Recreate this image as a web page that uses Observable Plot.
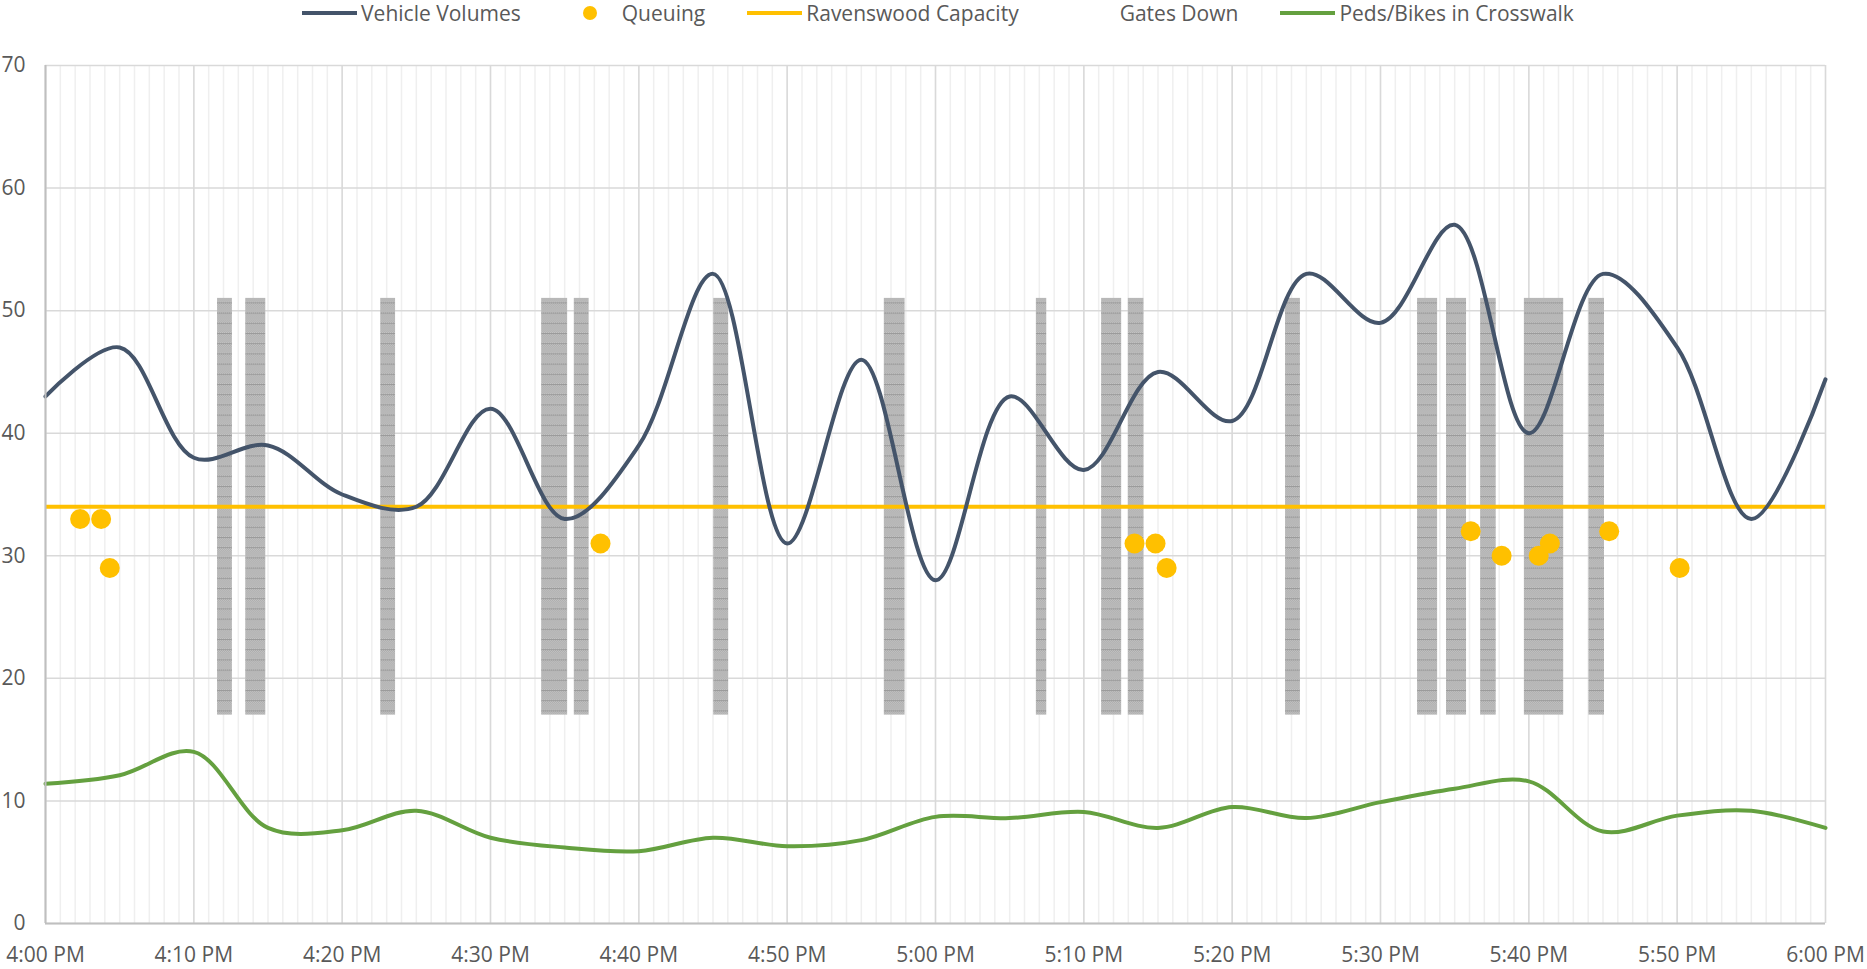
<!DOCTYPE html>
<html><head><meta charset="utf-8">
<script src="https://cdn.jsdelivr.net/npm/d3@7"></script>
<script src="https://cdn.jsdelivr.net/npm/@observablehq/plot@0.6"></script>
<style>
body{margin:0;background:#fff;font-family:"Open Sans",sans-serif;color:#595959;width:1867px;height:969px;overflow:hidden}
#legend{height:26px;display:flex;justify-content:center;align-items:center;font-size:21px;gap:42px;white-space:nowrap;padding-left:9px}
.item{display:flex;align-items:center;gap:4px}
.sw{width:55px;height:26px;display:flex;align-items:center;justify-content:center}
.ln{width:55px;height:4px}
.dot{width:14px;height:14px;border-radius:50%}
</style></head><body>
<div id="legend"></div><div id="chart"></div>
<script>
// ---- data ----
const intervalTimes = ["16:00","16:05","16:10","16:15","16:20","16:25","16:30","16:35","16:40","16:45","16:50","16:55",
  "17:00","17:05","17:10","17:15","17:20","17:25","17:30","17:35","17:40","17:45","17:50","17:55","18:00"];
const vehicleVolumes = [43,47,38,39,35,34,42,33,39,53,31,46,28,43,37,45,41,53,49,57,40,53,47,33,44.4];
const pedsBikes = [11.4,12.1,14,7.8,7.6,9.2,7.0,6.2,5.9,7.0,6.3,6.8,8.7,8.6,9.1,7.8,9.5,8.6,9.9,11.0,11.6,7.5,8.8,9.2,7.8];
const queueTimes = ["16:02:20","16:03:45","16:04:20","16:37:25","17:13:25","17:14:50","17:15:35","17:36:05","17:38:10","17:40:40","17:41:25","17:45:25","17:50:10"];
const queueValues = [33,33,29,31,31,31,29,32,30,30,31,32,29];
const capacity = 34;
const gateStarts = ["16:11:36","16:13:30","16:22:36","16:33:27","16:35:39","16:45:03","16:56:33","17:06:48","17:11:12","17:13:00","17:23:36","17:32:30","17:34:27","17:36:45","17:39:42","17:44:03"];
const gateEnds   = ["16:12:36","16:14:51","16:23:36","16:35:12","16:36:39","16:46:03","16:57:57","17:07:30","17:12:33","17:14:03","17:24:36","17:33:51","17:35:48","17:37:48","17:42:21","17:45:06"];
const gateRange = [17, 51];
const yTicks = [0,10,20,30,40,50,60,70];
const seriesNames = ["Vehicle Volumes","Queuing","Ravenswood Capacity","Gates Down","Peds/Bikes in Crosswalk"];
const colors = {vehicle:"#44546a", queue:"#ffc000", capacity:"#ffc000", peds:"#64a03f"};

// ---- build ----
const parseT = s => { const [h,m,sec] = s.split(":").map(Number); return new Date(2020,0,1,h,m,sec||0); };
const start = parseT("16:00"), end = parseT("18:00");
const series = intervalTimes.map((t,i)=>({t:parseT(t), v:vehicleVolumes[i], p:pedsBikes[i]}));
const queue = queueTimes.map((t,i)=>({t:parseT(t), v:queueValues[i]}));
const gates = gateStarts.map((s,i)=>({a:parseT(s), b:parseT(gateEnds[i]), lo:gateRange[0], hi:gateRange[1]}));
const minuteGrid = d3.timeMinute.range(start, d3.timeMinute.offset(end,1));
const majorGrid = d3.timeMinute.every(10).range(start, d3.timeMinute.offset(end,1));

// legend
const lg = document.getElementById("legend");
const swatches = [
  `<div class="ln" style="background:${colors.vehicle}"></div>`,
  `<div class="dot" style="background:${colors.queue}"></div>`,
  `<div class="ln" style="background:${colors.capacity}"></div>`,
  ``,
  `<div class="ln" style="background:${colors.peds}"></div>`
];
lg.innerHTML = seriesNames.map((n,i)=>`<div class="item"><div class="sw">${swatches[i]}</div><span>${n}</span></div>`).join("");

const chart = Plot.plot({
  width: 1867, height: 943,
  marginTop: 39, marginBottom: 46, marginLeft: 45, marginRight: 42,
  style: {fontFamily:'"Open Sans", sans-serif', fontSize:"21px", color:"#595959", background:"white"},
  x: {type:"time", domain:[start,end]},
  y: {domain:[0,70]},
  marks: [
    Plot.ruleX(minuteGrid, {stroke:"#efefef", strokeWidth:1.5}),
    Plot.ruleX(majorGrid, {stroke:"#d9d9d9", strokeWidth:1.5}),
    Plot.ruleY(yTicks, {stroke:"#d9d9d9", strokeWidth:1.5}),
    Plot.rect(gates, {x1:"a", x2:"b", y1:"lo", y2:"hi", fill:"url(#gatepat)"}),
    Plot.ruleY([capacity], {stroke:colors.capacity, strokeWidth:4}),
    Plot.line(series, {x:"t", y:"v", stroke:colors.vehicle, strokeWidth:4, curve:"catmull-rom"}),
    Plot.line(series, {x:"t", y:"p", stroke:colors.peds, strokeWidth:4, curve:"catmull-rom"}),
    Plot.dot(queue, {x:"t", y:"v", r:10, fill:colors.queue}),
    Plot.ruleY([0], {stroke:"#bfbfbf", strokeWidth:2}),
    Plot.ruleX([start], {stroke:"#bfbfbf", strokeWidth:2}),
    Plot.axisX({ticks: d3.timeMinute.every(10), tickFormat: d3.timeFormat("%-I:%M %p"), tickSize:0, tickPadding:24, label:null}),
    Plot.axisY({ticks: yTicks, tickSize:0, tickPadding:20, label:null})
  ]
});
const svg = chart;
d3.select(svg).insert("defs", ":first-child").html(`
<pattern id="gatepat" patternUnits="userSpaceOnUse" x="0" y="1" width="2" height="10.2">
  <rect width="2" height="10.2" fill="#c4c4c4"/>
  <rect x="0" y="0" width="1" height="1" fill="#acacac"/><rect x="1" y="1" width="1" height="1" fill="#acacac"/>
  <rect x="0" y="2" width="1" height="1" fill="#acacac"/><rect x="1" y="3" width="1" height="1" fill="#acacac"/>
  <rect x="0" y="4" width="1" height="1" fill="#acacac"/><rect x="1" y="5" width="1" height="1" fill="#acacac"/>
  <rect x="0" y="6" width="1" height="1" fill="#acacac"/><rect x="1" y="7" width="1" height="1" fill="#acacac"/>
  <rect x="0" y="8" width="1" height="1" fill="#acacac"/><rect x="1" y="9" width="1" height="1" fill="#acacac"/>
  <rect x="0" y="0" width="2" height="1" fill="#9a9a9a"/>
</pattern>`);
document.getElementById("chart").appendChild(chart);
</script>
</body></html>
